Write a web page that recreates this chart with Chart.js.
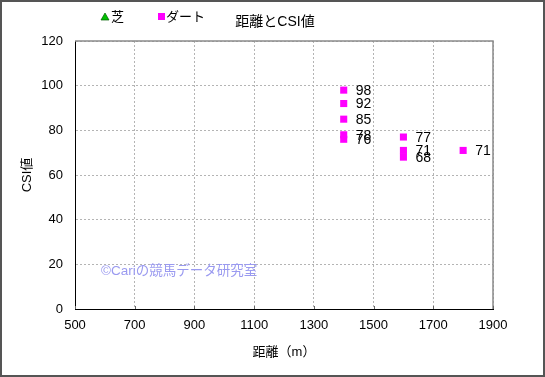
<!DOCTYPE html>
<html>
<head>
<meta charset="utf-8">
<script src="https://cdn.jsdelivr.net/npm/chart.js@4"></script>
<style>
  html, body { margin: 0; padding: 0; background: #fff; }
  canvas { display: block; }
</style>
</head>
<body>
<canvas id="csi-chart" width="545" height="377"></canvas>
<script>
// ダート only, 芝 has no points
var dirt_distance = [1400, 1400, 1400, 1400, 1400, 1600, 1600, 1600, 1800];
var dirt_csi = [98, 92, 85, 78, 76, 77, 71, 68, 71];
var turf_distance = [];
var turf_csi = [];
var x_ticks = [500, 700, 900, 1100, 1300, 1500, 1700, 1900];
var y_ticks = [0, 20, 40, 60, 80, 100, 120];

var font_family = '"Liberation Sans", "Noto Sans CJK JP", sans-serif';

function to_points(xs, ys) {
  return xs.map(function(x, i) { return { x: x, y: ys[i] } });
}

var deco = {
  id: 'deco',
  beforeDatasetsDraw: function(chart) {
    var c = chart.ctx;
    var a = chart.chartArea;
    var xs = chart.scales.x;
    c.save();
    // top / right frame of the plot, grey
    c.strokeStyle = '#8a8a8a';
    c.lineWidth = 1.5;
    c.beginPath();
    c.moveTo(a.left, a.top); c.lineTo(a.right, a.top); c.lineTo(a.right, a.bottom);
    c.stroke();
    // short inner ticks on the x axis
    c.strokeStyle = '#666';
    c.lineWidth = 1;
    x_ticks.forEach(function(v) {
      var px = Math.round(xs.getPixelForValue(v)) + 0.5;
      c.beginPath();
      c.moveTo(px, a.bottom); c.lineTo(px, a.bottom - 3);
      c.stroke();
    });
    c.restore();
  },
  afterDatasetsDraw: function(chart) {
    var c = chart.ctx;
    c.save();
    // value labels to the right of each point
    c.font = '14px ' + font_family;
    c.fillStyle = '#000';
    c.textBaseline = 'middle';
    c.textAlign = 'left';
    chart.getDatasetMeta(1).data.forEach(function(pt, i) {
      c.fillText(String(dirt_csi[i]), pt.x + 12, pt.y + 1);
    });
    // watermark
    c.font = '13.5px ' + font_family;
    c.fillStyle = '#9a9af0';
    c.fillText('©Cariの競馬データ研究室', 101, 271);
    c.restore();
  },
  afterDraw: function(chart) {
    var c = chart.ctx;
    c.save();
    // title and legend
    c.fillStyle = '#000';
    c.textBaseline = 'middle';
    c.font = '14px ' + font_family;
    c.textAlign = 'center';
    c.fillText('距離とCSI値', 275, 22);
    c.font = '13px ' + font_family;
    c.textAlign = 'left';
    c.fillStyle = '#00c000';
    c.strokeStyle = '#006000';
    c.lineWidth = 0.7;
    c.beginPath();
    c.moveTo(105, 13); c.lineTo(109, 20); c.lineTo(101, 20); c.closePath();
    c.fill(); c.stroke();
    c.fillStyle = '#000';
    c.fillText('芝', 111, 17);
    c.fillStyle = '#ff00ff';
    c.fillRect(158, 13, 7, 7);
    c.fillStyle = '#000';
    c.fillText('ダート', 166, 17);
    // outer frame
    c.strokeStyle = '#555';
    c.lineWidth = 2;
    c.strokeRect(1, 1, chart.width - 2, chart.height - 2);
    c.restore();
  }
};

var ctx = document.getElementById('csi-chart').getContext('2d');
var chart = new Chart(ctx, {
  type: 'scatter',
  data: {
    datasets: [
      {
        label: '芝',
        data: to_points(turf_distance, turf_csi),
        pointStyle: 'triangle',
        backgroundColor: '#00c000',
        borderColor: '#006000'
      },
      {
        label: 'ダート',
        data: to_points(dirt_distance, dirt_csi),
        pointStyle: 'rect',
        radius: 5,
        backgroundColor: '#ff00ff',
        borderColor: '#ff00ff',
        borderWidth: 0
      }
    ]
  },
  options: {
    responsive: false,
    animation: false,
    layout: { padding: { left: 0, top: 41, right: 52, bottom: 0 } },
    scales: {
      x: {
        type: 'linear',
        min: 500,
        max: 1900,
        afterBuildTicks: function(scale) {
          scale.ticks = x_ticks.map(function(v) { return { value: v } });
        },
        afterFit: function(scale) { scale.height = 68 },
        grid: {
          color: '#b4b4b4',
          drawTicks: false
        },
        border: { color: '#000', width: 1, dash: [2, 2] },
        ticks: {
          color: '#000',
          padding: 9,
          font: { size: 13, family: font_family },
          maxRotation: 0,
          callback: function(value) { return String(value) }
        },
        title: {
          display: true,
          text: '距離（m）',
          color: '#000',
          font: { size: 13, family: font_family },
          padding: { top: 17, bottom: 17 }
        }
      },
      y: {
        min: 0,
        max: 120,
        afterBuildTicks: function(scale) {
          scale.ticks = y_ticks.map(function(v) { return { value: v } });
        },
        afterFit: function(scale) { scale.width = 75 },
        grid: {
          color: '#b4b4b4',
          drawTicks: false
        },
        border: { color: '#000', width: 1, dash: [2, 2] },
        ticks: {
          color: '#000',
          padding: 12,
          font: { size: 13, family: font_family },
          callback: function(value) { return String(value) }
        },
        title: {
          display: true,
          text: 'CSI値',
          color: '#000',
          font: { size: 13, family: font_family },
          padding: { top: 20, bottom: 0 }
        }
      }
    },
    plugins: {
      legend: { display: false },
      tooltip: { enabled: false },
      title: { display: false }
    }
  },
  plugins: [deco]
});
</script>
</body>
</html>
